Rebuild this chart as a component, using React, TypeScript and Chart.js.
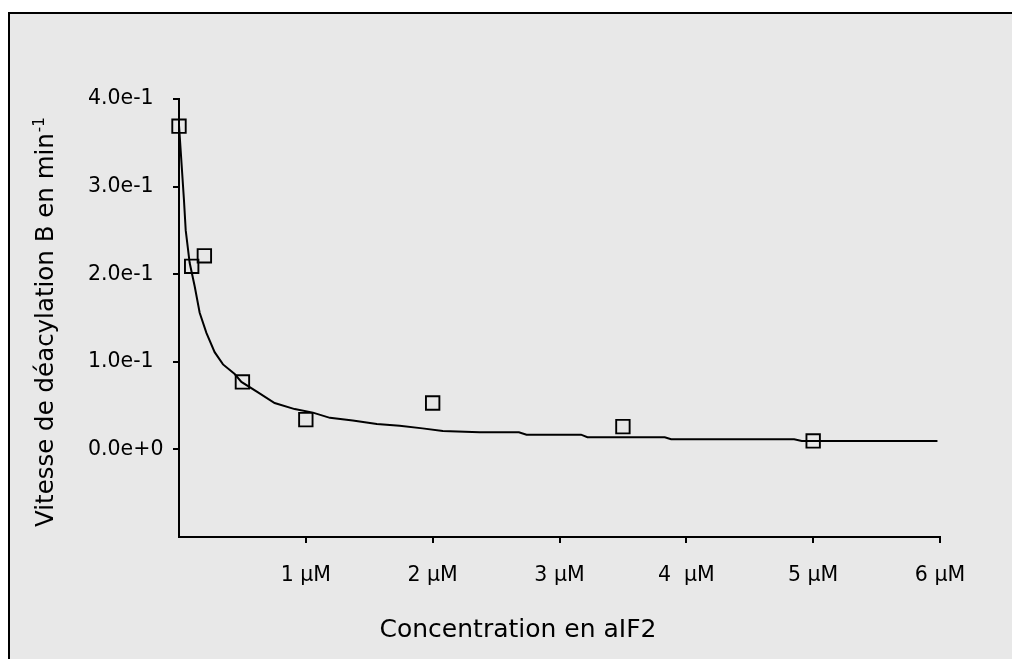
import React, { useEffect, useRef } from 'react';
import { Chart, registerables } from 'chart.js';
Chart.register(...registerables);

const pointX = [0, 0.1, 0.2, 0.5, 1, 2, 3.5, 5];
const pointY = [0.369, 0.209, 0.221, 0.077, 0.034, 0.053, 0.026, 0.0097];

const curveX = [0, 0.039, 0.053, 0.084, 0.124, 0.163, 0.216, 0.281, 0.347, 0.439, 0.492, 0.623, 0.754, 0.912, 1.056, 1.19, 1.37, 1.56, 1.74, 1.92, 2.08, 2.37, 2.68, 2.74, 3.17, 3.22, 3.83, 3.88, 4.85, 4.91, 5.98];
const curveY = [0.37, 0.285, 0.25, 0.213, 0.186, 0.156, 0.133, 0.111, 0.097, 0.086, 0.077, 0.065, 0.053, 0.046, 0.042, 0.036, 0.033, 0.029, 0.027, 0.024, 0.021, 0.0196, 0.0196, 0.0168, 0.0168, 0.0139, 0.0139, 0.0116, 0.0116, 0.0097, 0.0097];

const xTickValues = [1, 2, 3, 4, 5, 6];
const xTickLabels = ['1 µM', '2 µM', '3 µM', '4  µM', '5 µM', '6 µM'];
const yTickValues = [0, 0.1, 0.2, 0.3, 0.4];
const yTickLabels = ['0.0e+0', '1.0e-1', '2.0e-1', '3.0e-1', '4.0e-1'];

const xTitle = 'Concentration en aIF2';
const yTitle = 'Vitesse de déacylation B en min';
const yTitleSup = '-1';

const FONT = '"DejaVu Sans", Verdana, sans-serif';

const titlePlugin = {
  id: 'axisTitles',
  afterDraw(chart: any) {
    const ctx = chart.ctx;
    ctx.save();
    ctx.fillStyle = '#000';
    ctx.font = `25px ${FONT}`;
    ctx.textAlign = 'center';
    ctx.textBaseline = 'alphabetic';
    ctx.fillText(xTitle, 518, 637);
    ctx.restore();

    ctx.save();
    ctx.fillStyle = '#000';
    ctx.translate(53, 527);
    ctx.rotate(-Math.PI / 2);
    ctx.font = `24.5px ${FONT}`;
    ctx.textAlign = 'left';
    ctx.textBaseline = 'alphabetic';
    ctx.fillText(yTitle, 0, 0);
    const w = ctx.measureText(yTitle).width;
    ctx.font = `15px ${FONT}`;
    ctx.fillText(yTitleSup, w + 1, -9);
    ctx.restore();
  },
};

export default function App() {
  const ref = useRef<HTMLCanvasElement>(null);
  useEffect(() => {
    if (!ref.current) return;
    const curve = curveX.map((x, i) => ({ x, y: curveY[i] }));
    const pts = pointX.map((x, i) => ({ x, y: pointY[i] }));
    const chart = new Chart(ref.current, {
      type: 'scatter',
      data: {
        datasets: [
          {
            data: curve,
            showLine: true,
            pointRadius: 0,
            borderColor: '#000',
            borderWidth: 2,
            tension: 0,
            clip: false as any,
            order: 2,
          },
          {
            data: pts,
            showLine: false,
            pointStyle: 'rect',
            pointRadius: 9.5,
            pointBorderWidth: 1.9,
            pointBorderColor: '#000',
            pointBackgroundColor: 'rgba(0,0,0,0)',
            borderColor: '#000',
            backgroundColor: 'rgba(0,0,0,0)',
            clip: false as any,
            order: 1,
          },
        ],
      },
      options: {
        responsive: false,
        animation: false,
        events: [],
        layout: { padding: { left: 88, right: 72, top: 99, bottom: 72 } },
        plugins: { legend: { display: false }, tooltip: { enabled: false } },
        scales: {
          x: {
            type: 'linear',
            min: 0,
            max: 6,
            afterBuildTicks: (s: any) => {
              s.ticks = xTickValues.map((v) => ({ value: v }));
            },
            afterFit: (s: any) => {
              s.height = 50;
            },
            ticks: {
              autoSkip: false,
              maxRotation: 0,
              color: '#000',
              padding: 20,
              font: { family: FONT, size: 20.5 },
              callback: (v: any) => {
                const i = xTickValues.indexOf(Number(v));
                return i >= 0 ? xTickLabels[i] : null;
              },
            },
            grid: { drawOnChartArea: false, drawTicks: true, tickLength: 6, color: '#000', lineWidth: 2 },
            border: { display: true, color: '#000', width: 2 },
          },
          y: {
            type: 'linear',
            min: -0.1,
            max: 0.4,
            afterBuildTicks: (s: any) => {
              s.ticks = yTickValues.map((v) => ({ value: v }));
            },
            afterFit: (s: any) => {
              s.width = 91;
            },
            ticks: {
              autoSkip: false,
              crossAlign: 'far',
              color: '#000',
              padding: 18,
              font: { family: FONT, size: 20.5 },
              callback: (v: any) => {
                const i = yTickValues.findIndex((t) => Math.abs(t - Number(v)) < 1e-9);
                return i >= 0 ? yTickLabels[i] : null;
              },
            },
            grid: { drawOnChartArea: false, drawTicks: true, tickLength: 6, color: '#000', lineWidth: 2 },
            border: { display: true, color: '#000', width: 2 },
          },
        },
      },
      plugins: [titlePlugin],
    } as any);
    return () => chart.destroy();
  }, []);

  return (
    <>
      <div
        style={{
          position: 'absolute',
          left: 8,
          top: 12,
          width: 1004,
          height: 647,
          boxSizing: 'border-box',
          background: '#e8e8e8',
          borderTop: '2px solid #000',
          borderLeft: '2px solid #000',
        }}
      />
      <canvas
        ref={ref}
        width={1012}
        height={659}
        style={{ position: 'absolute', left: 0, top: 0, width: 1012, height: 659 }}
      />
    </>
  );
}
